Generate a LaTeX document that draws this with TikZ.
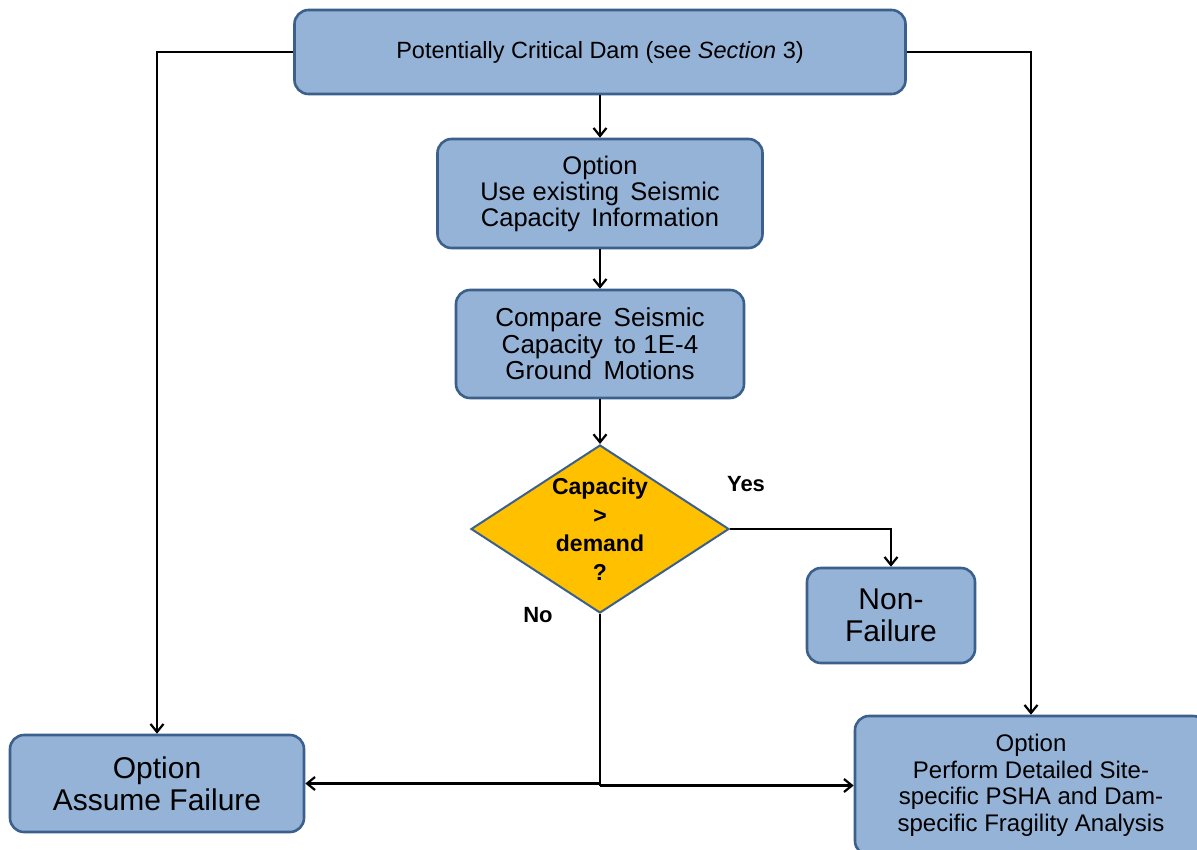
\documentclass[tikz,border=0pt]{standalone}
\usepackage{fontspec}
\setmainfont{Liberation Sans}
\usetikzlibrary{shapes.geometric,arrows.meta}
\definecolor{boxfill}{RGB}{149,179,215}
\definecolor{boxline}{RGB}{60,96,140}
\definecolor{decfill}{RGB}{255,192,0}
\tikzset{
  box/.style={draw=boxline, fill=boxfill, line width=2.6pt, rounded corners=14pt, align=center, inner sep=0pt},
  dec/.style={diamond, draw=boxline, fill=decfill, line width=2pt, aspect=1.536, inner sep=0pt,
    minimum width=258pt, minimum height=168pt, align=center,
    font=\fontsize{23}{28.5}\selectfont\bfseries},
  arr/.style={line width=2.6pt, -{Straight Barb[length=8pt,width=13pt,line width=2.2pt]}},
  ln/.style={line width=2.6pt},
  lbl/.style={font=\fontsize{22}{26}\selectfont\bfseries, inner sep=0pt}
}
\begin{document}
\begin{tikzpicture}[x=1pt,y=-1pt]
\useasboundingbox (0,0) rectangle (1197,849);
\clip (0,0) rectangle (1197,849);
\fill[white] (0,0) rectangle (1197,849);
\node[box, minimum width=611pt, minimum height=84pt, font=\fontsize{23.5}{26}\selectfont] (top) at (600,52)
  {Potentially Critical Dam (see \textit{Section} 3)};
\node[box, minimum width=325pt, minimum height=109pt, font=\fontsize{25.5}{26}\selectfont] (opt) at (600,193.5)
  {Option\\Use existing\, Seismic\\Capacity\, Information};
\node[box, minimum width=288pt, minimum height=108pt, font=\fontsize{26}{26.5}\selectfont] (cmp) at (600,344)
  {Compare\, Seismic\\Capacity\, to 1E-4\\Ground\, Motions};
\node[dec] (dia) at (600,529) {Capacity\\>\\demand\\?};
\node[box, minimum width=168pt, minimum height=95pt, font=\fontsize{30}{32}\selectfont] (nonf) at (891,615.5)
  {Non-\\Failure};
\node[box, minimum width=294pt, minimum height=97pt, font=\fontsize{30}{32}\selectfont] (assume) at (157,783.5)
  {Option\\Assume Failure};
\node[box, minimum width=352pt, minimum height=139pt, font=\fontsize{24}{26.5}\selectfont] (right) at (1031,785.5)
  {Option\\Perform Detailed Site-\\specific PSHA and Dam-\\specific Fragility Analysis};
\node[lbl] (yes) at (746,484) {Yes};
\node[lbl] (no) at (538,615) {No};
\coordinate (j1) at (dia.south |- assume.east);
\coordinate (j2) at (dia.south |- right.west);
\draw[arr] (top.west) -| (assume.north);
\draw[arr] (top.east) -| (right.north);
\draw[arr] (top.south) -- (opt.north);
\draw[arr] (opt.south) -- (cmp.north);
\draw[arr] (cmp.south) -- (dia.north);
\draw[arr] (dia.east) -| (nonf.north);
\draw[ln] (dia.south) -- (j2);
\draw[arr] (j1) -- (assume.east);
\draw[arr] (j2) -- (right.west);
\end{tikzpicture}
\end{document}
